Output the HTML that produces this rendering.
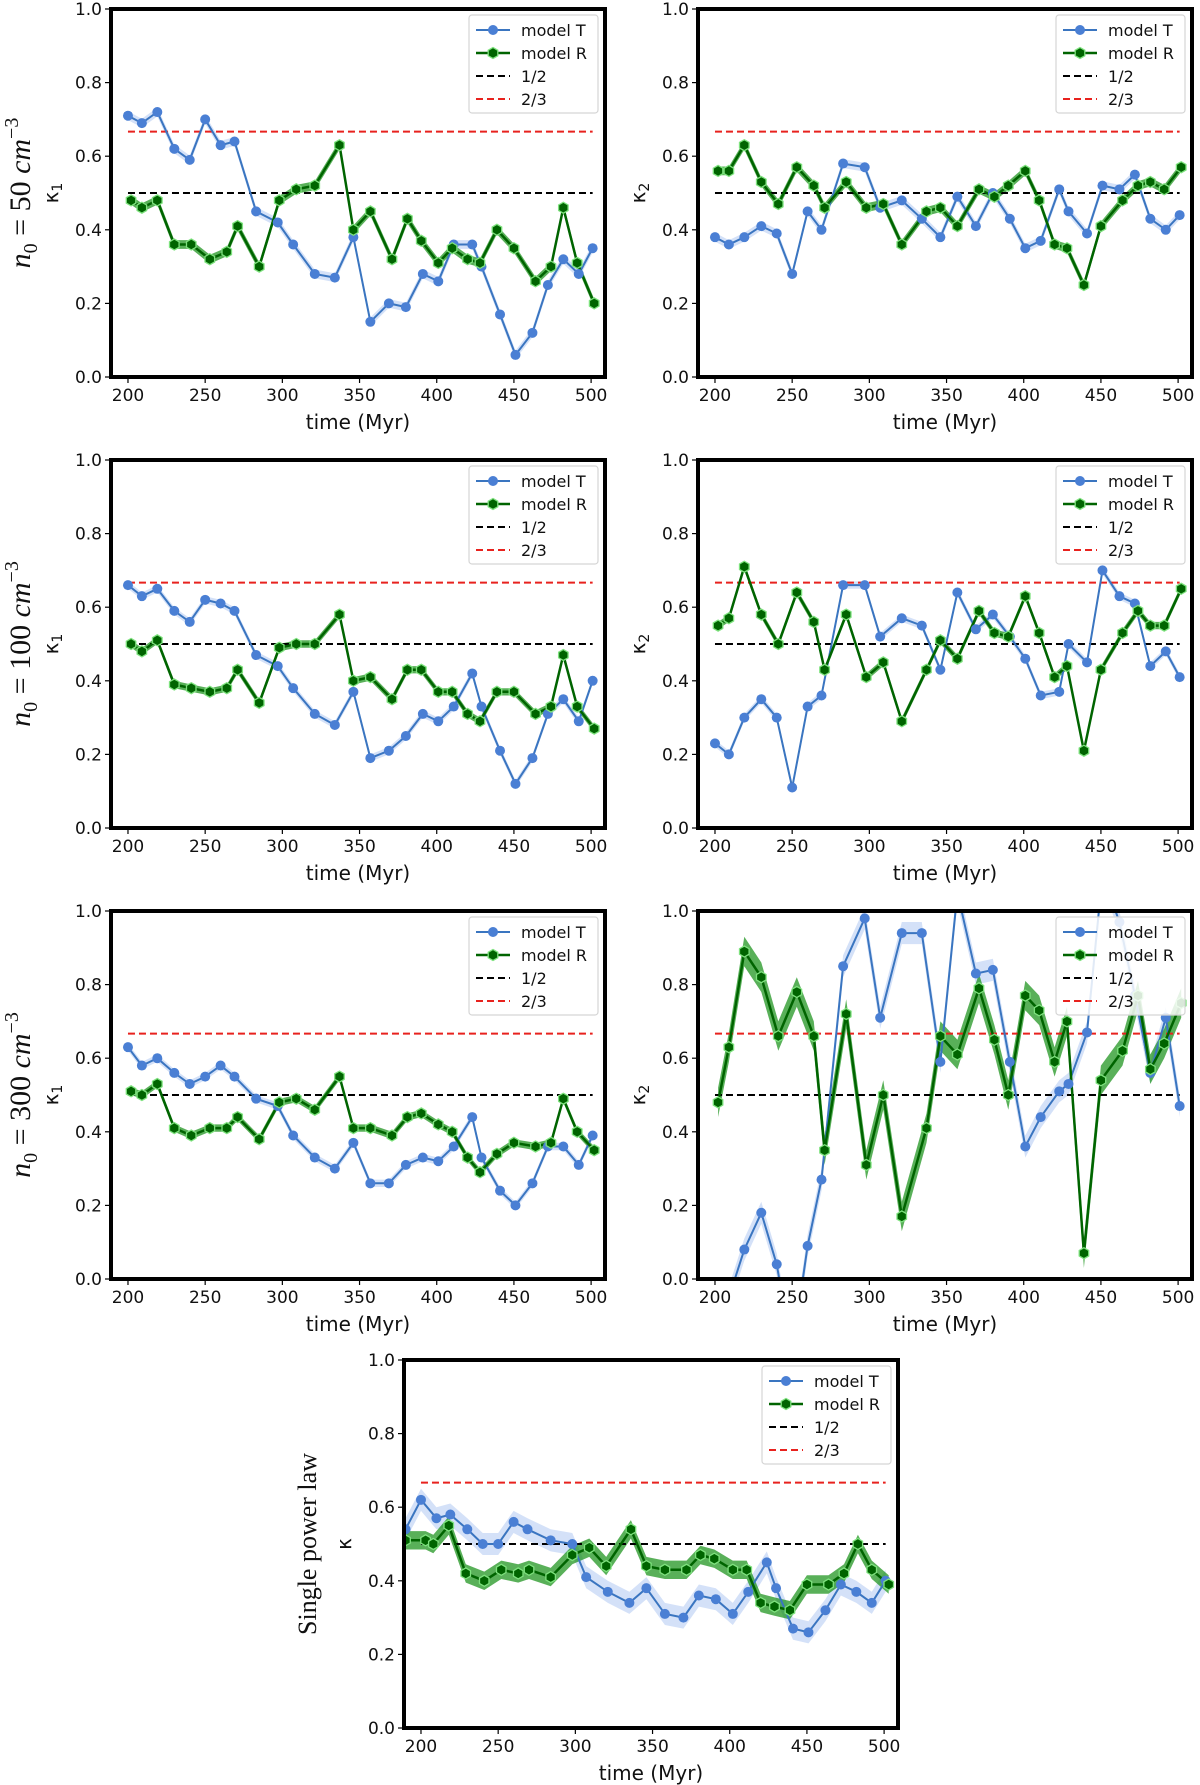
<!DOCTYPE html>
<html><head><meta charset="utf-8"><style>
html,body{margin:0;padding:0;background:#fff;}
svg{display:block;font-family:"DejaVu Sans","Liberation Sans",sans-serif;}
</style></head><body>
<svg id="fig" width="1200" height="1785" viewBox="0 0 1200 1785" xmlns="http://www.w3.org/2000/svg"></svg>
<script>
// ---- data ----
const tT = [200,209,219,230,240,250,260,269,283,297,307,321,334,346,357,369,380,391,401,411,423,429,441,451,462,472,482,492,501];
const tR = [202,209,219,230,241,253,264,271,285,298,309,321,337,346,357,371,381,390,401,410,420,428,439,450,464,474,482,491,502];
const t4T = [190,200,210,219,230,240,250,260,269,284,298,307,321,335,346,358,370,380,391,402,412,424,430,441,451,462,472,482,492,501];
const t4R = [190,203,208,218,229,241,252,263,270,284,298,309,320,336,346,358,372,381,390,402,411,420,429,439,450,464,474,483,492,503];

const n50k1T = [.71,.69,.72,.62,.59,.70,.63,.64,.45,.42,.36,.28,.27,.38,.15,.20,.19,.28,.26,.36,.36,.30,.17,.06,.12,.25,.32,.28,.35];
const n50k1R = [.48,.46,.48,.36,.36,.32,.34,.41,.30,.48,.51,.52,.63,.40,.45,.32,.43,.37,.31,.35,.32,.31,.40,.35,.26,.30,.46,.31,.20];
const n50k2T = [.38,.36,.38,.41,.39,.28,.45,.40,.58,.57,.46,.48,.43,.38,.49,.41,.50,.43,.35,.37,.51,.45,.39,.52,.51,.55,.43,.40,.44];
const n50k2R = [.56,.56,.63,.53,.47,.57,.52,.46,.53,.46,.47,.36,.45,.46,.41,.51,.49,.52,.56,.48,.36,.35,.25,.41,.48,.52,.53,.51,.57];

const n100k1T = [.66,.63,.65,.59,.56,.62,.61,.59,.47,.44,.38,.31,.28,.37,.19,.21,.25,.31,.29,.33,.42,.33,.21,.12,.19,.31,.35,.29,.40];
const n100k1R = [.50,.48,.51,.39,.38,.37,.38,.43,.34,.49,.50,.50,.58,.40,.41,.35,.43,.43,.37,.37,.31,.29,.37,.37,.31,.33,.47,.33,.27];
const n100k2T = [.23,.20,.30,.35,.30,.11,.33,.36,.66,.66,.52,.57,.55,.43,.64,.54,.58,.52,.46,.36,.37,.50,.45,.70,.63,.61,.44,.48,.41];
const n100k2R = [.55,.57,.71,.58,.50,.64,.56,.43,.58,.41,.45,.29,.43,.51,.46,.59,.53,.52,.63,.53,.41,.44,.21,.43,.53,.59,.55,.55,.65];

const n300k1T = [.63,.58,.60,.56,.53,.55,.58,.55,.49,.47,.39,.33,.30,.37,.26,.26,.31,.33,.32,.36,.44,.33,.24,.20,.26,.36,.36,.31,.39];
const n300k1R = [.51,.50,.53,.41,.39,.41,.41,.44,.38,.48,.49,.46,.55,.41,.41,.39,.44,.45,.42,.40,.33,.29,.34,.37,.36,.37,.49,.40,.35];
const n300k2T = [-.25,-.05,.08,.18,.04,-.2,.09,.27,.85,.98,.71,.94,.94,.59,1.05,.83,.84,.59,.36,.44,.51,.53,.67,1.1,.97,.77,.56,.71,.47];
const n300k2R = [.48,.63,.89,.82,.66,.78,.66,.35,.72,.31,.50,.17,.41,.66,.61,.79,.65,.50,.77,.73,.59,.70,.07,.54,.62,.77,.57,.64,.75];

const splT = [.54,.62,.57,.58,.54,.50,.50,.56,.54,.51,.50,.41,.37,.34,.38,.31,.30,.36,.35,.31,.37,.45,.38,.27,.26,.32,.39,.37,.34,.40];
const splR = [.51,.51,.50,.55,.42,.40,.43,.42,.43,.41,.47,.49,.44,.54,.44,.43,.43,.47,.46,.43,.43,.34,.33,.32,.39,.39,.42,.50,.43,.39];

const xTicks = [200,250,300,350,400,450,500];
const yTicks = [0.0,0.2,0.4,0.6,0.8,1.0];
const refHalf = 0.5, refTwoThirds = 2/3;
const legendLabels = ["model T","model R","1/2","2/3"];

// ---- drawing ----
const NS = "http://www.w3.org/2000/svg";
const svg = document.getElementById('fig');
function mk(tag, attrs, parent){ const e=document.createElementNS(NS,tag); for(const k in attrs) e.setAttribute(k,attrs[k]); (parent||svg).appendChild(e); return e; }

const panels = [
 {name:'n50-k1', x:111,y:9,tT:tT,tR:tR,T:n50k1T,R:n50k1R,yl:'κ',sub:'1',row:'50',bT:.012,bR:.012},
 {name:'n50-k2', x:698,y:9,tT:tT,tR:tR,T:n50k2T,R:n50k2R,yl:'κ',sub:'2',bT:.012,bR:.012},
 {name:'n100-k1',x:111,y:460,tT:tT,tR:tR,T:n100k1T,R:n100k1R,yl:'κ',sub:'1',row:'100',bT:.01,bR:.01},
 {name:'n100-k2',x:698,y:460,tT:tT,tR:tR,T:n100k2T,R:n100k2R,yl:'κ',sub:'2',bT:.01,bR:.01},
 {name:'n300-k1',x:111,y:911,tT:tT,tR:tR,T:n300k1T,R:n300k1R,yl:'κ',sub:'1',row:'300',bT:.01,bR:.01},
 {name:'n300-k2',x:698,y:911,tT:tT,tR:tR,T:n300k2T,R:n300k2R,yl:'κ',sub:'2',bT:.03,bR:.04},
 {name:'single-power-law',x:404,y:1360,tT:t4T,tR:t4R,T:splT,R:splR,yl:'κ',sub:'',rowText:'Single power law',bT:.03,bR:.025}
];
const W=494, H=368, XMIN=189, XMAX=509;

panels.forEach((p,pi)=>{
  const g = mk('g',{});
  
  
  const sx = v => p.x + (v-XMIN)/(XMAX-XMIN)*W;
  const sy = v => p.y + H - v*H;
  const cid = 'clip'+pi;
  const cp = mk('clipPath',{id:cid},g); mk('rect',{x:p.x,y:p.y,width:W,height:H},cp);
  const plot = mk('g',{'clip-path':'url(#'+cid+')'},g);
  function band(ts,vs,b,fill,op){
    let d='M'; ts.forEach((t,i)=>{d+=(i?'L':'')+sx(t).toFixed(1)+','+sy(vs[i]+b).toFixed(1);});
    for(let i=ts.length-1;i>=0;i--) d+='L'+sx(ts[i]).toFixed(1)+','+sy(vs[i]-b).toFixed(1);
    const e=mk('path',{d:d+'Z',fill:fill,'fill-opacity':op,stroke:'none'},plot);
    return e;
  }
  const bt = band(p.tT,p.T,p.bT,'#6f9be8',0.3);
  
  
  const br = band(p.tR,p.R,p.bR,'#138f13',0.7);
  
  
  const l1 = mk('line',{x1:sx(200),x2:sx(501),y1:sy(refHalf),y2:sy(refHalf),stroke:'#000','stroke-width':2,'stroke-dasharray':'7,4'},plot);
  
  
  const l2 = mk('line',{x1:sx(200),x2:sx(501),y1:sy(refTwoThirds),y2:sy(refTwoThirds),stroke:'#e8221e','stroke-width':2,'stroke-dasharray':'7,4'},plot);
  
  
  const lt = mk('polyline',{points:p.tT.map((t,i)=>sx(t).toFixed(1)+','+sy(p.T[i]).toFixed(1)).join(' '),fill:'none',stroke:'#3a75c0','stroke-width':2},plot);
  
  
  const lr = mk('polyline',{points:p.tR.map((t,i)=>sx(t).toFixed(1)+','+sy(p.R[i]).toFixed(1)).join(' '),fill:'none',stroke:'#006400','stroke-width':2.5},plot);
  
  
  p.tT.forEach((t,i)=>{
    const c=mk('circle',{cx:sx(t),cy:sy(p.T[i]),r:5,fill:'#4a7fd4'},plot);
    
    
  });
  p.tR.forEach((t,i)=>{
    const cx=sx(t), cy=sy(p.R[i]); let pts=[];
    for(let k=0;k<6;k++){const a=Math.PI/6+k*Math.PI/3; pts.push((cx+5.5*Math.cos(a)).toFixed(1)+','+(cy+5.5*Math.sin(a)).toFixed(1));}
    const h=mk('polygon',{points:pts.join(' '),fill:'#006400',stroke:'#7ee27e','stroke-width':1.3},plot);
    
    
  });
  const fr = mk('rect',{x:p.x,y:p.y,width:W,height:H,fill:'none',stroke:'#000','stroke-width':4},g);
  
  
  xTicks.forEach(v=>{
    mk('line',{x1:sx(v),x2:sx(v),y1:p.y+H+2,y2:p.y+H+6,stroke:'#000','stroke-width':1.2},g);
    const t=mk('text',{x:sx(v),y:p.y+H+24,'font-size':17,'text-anchor':'middle',fill:'#111'},g); t.textContent=v;
    
    
  });
  yTicks.forEach(v=>{
    mk('line',{x1:p.x-6,x2:p.x-2,y1:sy(v),y2:sy(v),stroke:'#000','stroke-width':1.2},g);
    const t=mk('text',{x:p.x-9,y:sy(v)+6,'font-size':17,'text-anchor':'end',fill:'#111'},g); t.textContent=v.toFixed(1);
    
    
  });
  const xl=mk('text',{x:p.x+W/2,y:p.y+H+52,'font-size':20,'text-anchor':'middle',fill:'#111'},g); xl.textContent='time (Myr)';
  
  
  const yx=p.x-53, yy=p.y+H/2;
  const yl=mk('text',{x:0,y:0,'font-size':20,'text-anchor':'middle',fill:'#111',transform:'translate('+yx+','+yy+') rotate(-90)'},g);
  yl.textContent=p.yl;
  if(p.sub){const s=mk('tspan',{'font-size':14,dy:4},yl); s.textContent=p.sub;}
  
  
  if(p.row){
    const rl=mk('text',{x:0,y:0,'font-size':30,'text-anchor':'middle',fill:'#111','font-family':'"Liberation Serif",serif','font-style':'italic',transform:'translate(30,'+yy+') rotate(-90)'},g);
    const a=mk('tspan',{},rl); a.textContent='n';
    const b=mk('tspan',{'font-size':20,dy:7,'font-style':'normal'},rl); b.textContent='0';
    const c=mk('tspan',{dy:-7,'font-style':'normal'},rl); c.textContent=' = '+p.row+' ';
    const d=mk('tspan',{},rl); d.textContent='cm';
    const e=mk('tspan',{'font-size':20,dy:-12,'font-style':'normal'},rl); e.textContent='−3';
    
    
  }
  if(p.rowText){
    const rl=mk('text',{x:0,y:0,'font-size':26,'text-anchor':'middle',fill:'#111','font-family':'"Liberation Serif",serif',transform:'translate(316,'+yy+') rotate(-90)'},g);
    rl.textContent=p.rowText;
    
    
  }
  const lx=p.x+W-136, ly=p.y+6;
  const lg=mk('g',{},g);
  
  
  mk('rect',{x:lx,y:ly,width:129,height:98,rx:3,fill:'#fff','fill-opacity':0.85,stroke:'#d5d5d5','stroke-width':1.2},lg);
  legendLabels.forEach((lab,i)=>{
    const ey=ly+15+i*23;
    const e=mk('g',{},lg);
    
    
    if(i===0){mk('line',{x1:lx+7,x2:lx+41,y1:ey,y2:ey,stroke:'#3a75c0','stroke-width':2},e);mk('circle',{cx:lx+24,cy:ey,r:5,fill:'#4a7fd4'},e);}
    if(i===1){mk('line',{x1:lx+7,x2:lx+41,y1:ey,y2:ey,stroke:'#006400','stroke-width':2.5},e);
      let pts=[];for(let k=0;k<6;k++){const a=Math.PI/6+k*Math.PI/3;pts.push((lx+24+5.5*Math.cos(a)).toFixed(1)+','+(ey+5.5*Math.sin(a)).toFixed(1));}
      mk('polygon',{points:pts.join(' '),fill:'#006400',stroke:'#7ee27e','stroke-width':1.3},e);}
    if(i===2) mk('line',{x1:lx+7,x2:lx+41,y1:ey,y2:ey,stroke:'#000','stroke-width':2,'stroke-dasharray':'7,4'},e);
    if(i===3) mk('line',{x1:lx+7,x2:lx+41,y1:ey,y2:ey,stroke:'#e8221e','stroke-width':2,'stroke-dasharray':'7,4'},e);
    const tx=mk('text',{x:lx+52,y:ey+6,'font-size':16,fill:'#111'},e); tx.textContent=lab;
  });
});
</script>
</body></html>
